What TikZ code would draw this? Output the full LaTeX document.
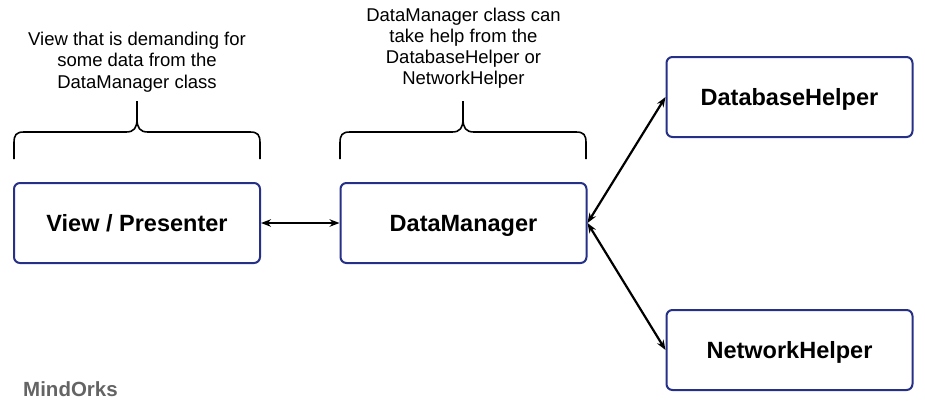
\documentclass[tikz,border=0pt]{standalone}
\usepackage{fontspec}
\setmainfont{Liberation Sans}
\usetikzlibrary{arrows.meta}
\definecolor{boxblue}{RGB}{38,48,135}
\definecolor{markgray}{RGB}{100,100,100}
\tikzset{
  classbox/.style={draw=boxblue, line width=2pt, rounded corners=6pt, minimum width=246pt, minimum height=80pt, inner sep=0pt, text height=20pt, text depth=4pt, font=\fontsize{23.5}{28}\selectfont\bfseries},
  note/.style={align=center, inner sep=0pt, anchor=north, font=\fontsize{18.5}{21.2}\selectfont},
  link/.style={line width=2.2pt, {Stealth[length=10pt,width=7.5pt]}-{Stealth[length=10pt,width=7.5pt]}},
  bracket/.style={line width=1.6pt, line join=round}
}
\begin{document}
\begin{tikzpicture}[x=1pt,y=-1pt]
\useasboundingbox (0,0) rectangle (925,405);
\node[classbox] (view) at (137,223) {View / Presenter};
\node[classbox] (dm) at (463.5,223) {DataManager};
\node[classbox] (db) at (789.5,97) {DatabaseHelper};
\node[classbox] (net) at (789.5,350) {NetworkHelper};

\draw[link] (view.east) -- (dm.west);
\draw[link] (dm.east) -- (db.west);
\draw[link] (dm.east) -- (net.west);

\node[note] (t1) at (137,32) {View that is demanding for\\some data from the\\DataManager class};
\node[note] (t2) at (463.5,7.5) {DataManager class can\\take help from the\\DatabaseHelper or\\NetworkHelper};

\draw[bracket] (14,159) -- (14,143) .. controls (14,135) and (16,132) .. (24,132) -- (126,132) .. controls (134,132) and (137,128) .. (137,119) -- (137,101);
\draw[bracket] (260,159) -- (260,143) .. controls (260,135) and (258,132) .. (250,132) -- (148,132) .. controls (140,132) and (137,128) .. (137,119);
\draw[bracket] (340,159) -- (340,143) .. controls (340,135) and (342,132) .. (350,132) -- (452,132) .. controls (460,132) and (463,128) .. (463,119) -- (463,101);
\draw[bracket] (586,159) -- (586,143) .. controls (586,135) and (584,132) .. (576,132) -- (474,132) .. controls (466,132) and (463,128) .. (463,119);

\node[anchor=base west, inner sep=0pt, text=markgray, font=\fontsize{20.5}{22}\selectfont\bfseries] (mark) at (23,396) {MindOrks};
\end{tikzpicture}
\end{document}
